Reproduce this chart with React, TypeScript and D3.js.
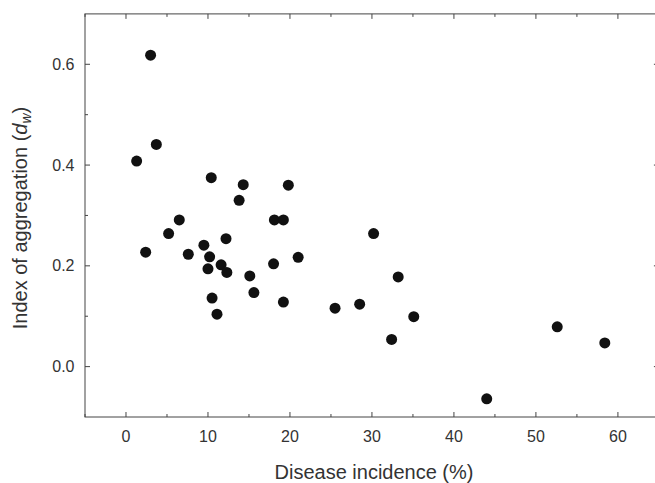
import React, { useEffect, useRef } from 'react';
import * as d3 from 'd3';

// Disease incidence (%) vs index of aggregation (d_w)
const incidence = [
  3.0, 3.7, 1.3, 10.4, 14.3, 19.8, 13.8, 6.5, 18.1, 19.2, 5.2, 12.2, 30.2, 2.4,
  7.6, 9.5, 10.2, 10.0, 11.6, 12.3, 15.1, 18.0, 21.0, 33.2, 10.5, 11.1, 15.6,
  19.2, 25.5, 28.5, 35.1, 32.4, 44.0, 52.6, 58.4,
];
const aggregation = [
  0.618, 0.441, 0.408, 0.375, 0.361, 0.360, 0.330, 0.291, 0.291, 0.291, 0.264,
  0.254, 0.264, 0.227, 0.223, 0.241, 0.218, 0.194, 0.202, 0.187, 0.180, 0.204,
  0.217, 0.178, 0.136, 0.104, 0.147, 0.128, 0.116, 0.124, 0.099, 0.054, -0.064,
  0.079, 0.047,
];

const xMajor = [0, 10, 20, 30, 40, 50, 60];
const xMinor = [-5, 5, 15, 25, 35, 45, 55, 65];
const yMajor = [0.0, 0.2, 0.4, 0.6];
const yMinor = [0.1, 0.3, 0.5];

const App = () => {
  const svgRef = useRef<SVGSVGElement>(null);

  useEffect(() => {
    const svg = d3.select(svgRef.current);
    svg.selectAll('*').remove();

    const width = 655;
    const height = 483;
    const x = d3.scaleLinear().domain([-5, 65]).range([85, 658.9]);
    const y = d3.scaleLinear().domain([-0.1, 0.7]).range([417, 13.9]);
    const [x0, x1] = x.range();
    const [y0, y1] = y.range();
    const axisColor = '#444';
    const textColor = '#333';
    const font = '"Liberation Sans", Arial, sans-serif';

    svg.attr('width', width).attr('height', height);

    // frame
    svg.append('rect')
      .attr('x', x0)
      .attr('y', y1)
      .attr('width', x1 - x0)
      .attr('height', y0 - y1)
      .attr('fill', 'none')
      .attr('stroke', axisColor)
      .attr('stroke-width', 1);

    const ticks = svg.append('g').attr('stroke', axisColor).attr('stroke-width', 1);

    // x ticks, bottom and top, pointing inward
    const xTick = (vals: number[], len: number) => {
      vals.forEach(v => {
        ticks.append('line')
          .attr('x1', x(v)).attr('x2', x(v))
          .attr('y1', y0).attr('y2', y0 - len);
        ticks.append('line')
          .attr('x1', x(v)).attr('x2', x(v))
          .attr('y1', y1).attr('y2', y1 + len);
      });
    };
    xTick(xMajor, 5);
    xTick(xMinor, 3);

    // y ticks, left and right
    const yTick = (vals: number[], len: number) => {
      vals.forEach(v => {
        ticks.append('line')
          .attr('x1', x0).attr('x2', x0 + len)
          .attr('y1', y(v)).attr('y2', y(v));
        ticks.append('line')
          .attr('x1', x1).attr('x2', x1 - len)
          .attr('y1', y(v)).attr('y2', y(v));
      });
    };
    yTick(yMajor, 5);
    yTick(yMinor, 3);

    // tick labels
    svg.append('g')
      .selectAll('text')
      .data(xMajor)
      .enter()
      .append('text')
      .attr('x', d => x(d))
      .attr('y', 442)
      .attr('text-anchor', 'middle')
      .attr('font-family', font)
      .attr('font-size', 16)
      .attr('fill', textColor)
      .text(d => d3.format('d')(d));

    svg.append('g')
      .selectAll('text')
      .data(yMajor)
      .enter()
      .append('text')
      .attr('x', 74.5)
      .attr('y', d => y(d))
      .attr('dy', '0.35em')
      .attr('text-anchor', 'end')
      .attr('font-family', font)
      .attr('font-size', 16)
      .attr('fill', textColor)
      .text(d => d3.format('.1f')(d));

    // axis titles
    svg.append('text')
      .attr('x', 374)
      .attr('y', 479)
      .attr('text-anchor', 'middle')
      .attr('font-family', font)
      .attr('font-size', 20)
      .attr('fill', textColor)
      .text('Disease incidence (%)');

    const yTitle = svg.append('text')
      .attr('transform', 'translate(27,218) rotate(-90)')
      .attr('text-anchor', 'middle')
      .attr('font-family', font)
      .attr('font-size', 20)
      .attr('fill', textColor);
    yTitle.append('tspan').text('Index of aggregation (');
    yTitle.append('tspan').attr('font-style', 'italic').text('d');
    yTitle.append('tspan').attr('font-style', 'italic').attr('font-size', 14).attr('dy', 4).text('w');
    yTitle.append('tspan').attr('dy', -4).text(')');

    // points
    svg.append('g')
      .selectAll('circle')
      .data(incidence.map((v, i) => [v, aggregation[i]]))
      .enter()
      .append('circle')
      .attr('cx', d => x(d[0]))
      .attr('cy', d => y(d[1]))
      .attr('r', 5.5)
      .attr('fill', '#111');
  }, []);

  return (
    <svg
      ref={svgRef}
      style={{ position: 'absolute', left: 0, top: 0, background: '#fff' }}
    />
  );
};

export default App;
